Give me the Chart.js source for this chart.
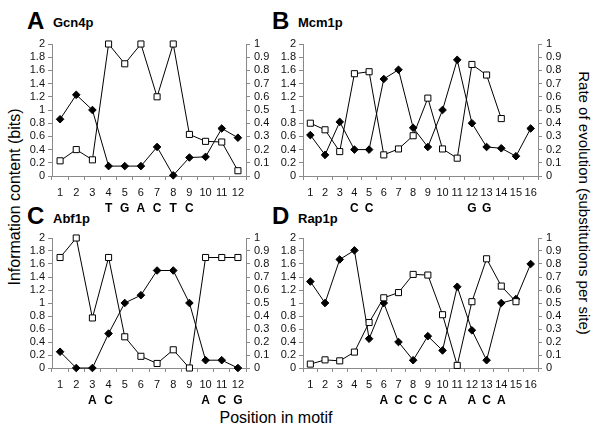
<!DOCTYPE html>
<html lang="en">
<head>
<meta charset="UTF-8">
<title>Motif conservation</title>
<script src="https://cdn.jsdelivr.net/npm/chart.js"></script>
<style>
    body { margin: 0; background: #fff; font-family: "Liberation Sans", Arial, sans-serif; }
    #wrap { position: relative; width: 600px; height: 435px; overflow: hidden; }
    canvas { position: absolute; }
    .head { position: absolute; font-weight: bold; white-space: nowrap; line-height: 1; }
    .big { font-size: 24px; }
    .name { font-size: 13px; }
    .axt { position: absolute; white-space: nowrap; line-height: 1; color: #000; }
</style>
</head>
<body>
<div id="wrap">
    <div class="head big" style="left:27px;top:9px">A</div>
    <div class="head name" style="left:53px;top:16px">Gcn4p</div>
    <div class="head big" style="left:272px;top:9px">B</div>
    <div class="head name" style="left:298px;top:16px">Mcm1p</div>
    <div class="head big" style="left:27px;top:204px">C</div>
    <div class="head name" style="left:53px;top:212px">Abf1p</div>
    <div class="head big" style="left:272px;top:204px">D</div>
    <div class="head name" style="left:298px;top:212px">Rap1p</div>

    <div class="axt" style="font-size:16px;left:15px;top:197px;transform:translate(-50%,-50%) rotate(-90deg)">Information content (bits)</div>
    <div class="axt" style="font-size:15px;left:584px;top:203px;transform:translate(-50%,-50%) rotate(90deg)">Rate of evolution (substitutions per site)</div>
    <div class="axt" style="font-size:16px;left:276px;top:418px;transform:translate(-50%,-50%)">Position in motif</div>

    <canvas id="cA"></canvas>
    <canvas id="cB"></canvas>
    <canvas id="cC"></canvas>
    <canvas id="cD"></canvas>
</div>

<script>
    const pos12 = ['1','2','3','4','5','6','7','8','9','10','11','12'];
    const pos16 = ['1','2','3','4','5','6','7','8','9','10','11','12','13','14','15','16'];

    // information content (bits, left axis) and rate of evolution (right axis)
    const infoA = [0.23, 0.40, 0.245, 2.0, 1.7, 2.0, 1.2, 2.0, 0.63, 0.525, 0.515, 0.08];
    const rateA = [0.43, 0.615, 0.5, 0.075, 0.075, 0.075, 0.22, 0.005, 0.14, 0.145, 0.36, 0.29];
    const basesA = ['', '', '', 'T', 'G', 'A', 'C', 'T', 'C', '', '', ''];

    const infoB = [0.80, 0.70, 0.37, 1.55, 1.58, 0.32, 0.41, 0.61, 1.18, 0.41, 0.27, 1.69, 1.53, 0.87, null, null];
    const rateB = [0.31, 0.16, 0.41, 0.2, 0.2, 0.735, 0.805, 0.365, 0.22, 0.5, 0.88, 0.4, 0.22, 0.21, 0.15, 0.36];
    const basesB = ['', '', '', 'C', 'C', '', '', '', '', '', '', 'G', 'G', '', '', ''];

    const infoC = [1.70, 2.0, 0.77, 1.70, 0.48, 0.18, 0.07, 0.28, 0.0, 1.70, 1.70, 1.70];
    const rateC = [0.125, 0, 0, 0.265, 0.5, 0.56, 0.75, 0.75, 0.5, 0.06, 0.06, 0];
    const basesC = ['', '', 'A', 'C', '', '', '', '', '', 'A', 'C', 'G'];

    const infoD = [0.06, 0.125, 0.11, 0.245, 0.70, 1.08, 1.16, 1.44, 1.43, 0.82, 0.04, 1.02, 1.68, 1.26, 1.02, null];
    const rateD = [0.665, 0.5, 0.835, 0.905, 0.225, 0.5, 0.2, 0.06, 0.245, 0.135, 0.625, 0.29, 0.06, 0.5, 0.53, 0.8];
    const basesD = ['', '', '', '', '', 'A', 'C', 'C', 'C', 'A', '', 'A', 'C', 'A', '', ''];

    const axisGrey = '#8a8a8a';
    const tickFont = { family: '"Liberation Sans", Arial, sans-serif', size: 11 };

    function panel(id, cv, box, labels, info, rate, bases) {
        const el = document.getElementById(id);
        el.width = cv.w;
        el.height = cv.h;
        el.style.left = cv.left + 'px';
        el.style.top = cv.top + 'px';

        const leftW = box.x0 - cv.left;
        const rightW = cv.left + cv.w - box.x1;
        const xH = 34;
        const padTop = box.y0 - cv.top;
        const padBottom = cv.top + cv.h - box.y1 - xH;

        const basesPlugin = {
            id: 'bases' + id,
            afterDraw(chart) {
                const c = chart.ctx;
                const xs = chart.scales.x;
                c.save();
                c.font = 'bold 12px "Liberation Sans", Arial, sans-serif';
                c.fillStyle = '#000';
                c.textAlign = 'center';
                c.textBaseline = 'middle';
                bases.forEach((b, i) => {
                    if (b) c.fillText(b, xs.getPixelForValue(i), chart.chartArea.bottom + 33);
                });
                c.restore();
            }
        };

        return new Chart(el, {
            type: 'line',
            data: {
                labels: labels,
                datasets: [{
                    data: info,
                    yAxisID: 'y',
                    borderColor: '#000',
                    borderWidth: 1,
                    pointStyle: 'rect',
                    pointRadius: 4.3,
                    pointBackgroundColor: '#fff',
                    pointBorderColor: '#000',
                    pointBorderWidth: 1,
                    tension: 0,
                    clip: false
                }, {
                    data: rate,
                    yAxisID: 'y1',
                    borderColor: '#000',
                    borderWidth: 1,
                    pointStyle: 'rectRot',
                    pointRadius: 3.8,
                    pointBackgroundColor: '#000',
                    pointBorderColor: '#000',
                    pointBorderWidth: 1,
                    tension: 0,
                    clip: false
                }]
            },
            options: {
                responsive: false,
                animation: false,
                layout: { padding: { top: padTop, bottom: padBottom, left: 0, right: 0 } },
                plugins: { legend: { display: false }, tooltip: { enabled: false } },
                scales: {
                    x: {
                        type: 'category',
                        offset: true,
                        grid: { offset: true, drawOnChartArea: false, drawTicks: true, tickLength: 4, color: axisGrey },
                        border: { color: axisGrey },
                        ticks: { autoSkip: false, maxRotation: 0, padding: 6, color: '#111', font: tickFont },
                        afterFit: s => { s.height = xH; }
                    },
                    y: {
                        position: 'left',
                        min: 0, max: 2,
                        grid: { drawOnChartArea: false, tickLength: 4, color: axisGrey },
                        border: { color: axisGrey },
                        ticks: { stepSize: 0.2, autoSkip: false, padding: 3, color: '#111', font: tickFont,
                                 callback: v => String(+v.toFixed(1)) },
                        afterFit: s => { s.width = leftW; }
                    },
                    y1: {
                        position: 'right',
                        min: 0, max: 1,
                        grid: { drawOnChartArea: false, tickLength: 4, color: axisGrey },
                        border: { color: axisGrey },
                        ticks: { stepSize: 0.1, autoSkip: false, padding: 4, color: '#111', font: tickFont,
                                 callback: v => String(+v.toFixed(1)) },
                        afterFit: s => { s.width = rightW; }
                    }
                }
            },
            plugins: [basesPlugin]
        });
    }

    panel('cA', { left: 0, top: 30, w: 300, h: 195 }, { x0: 52, x1: 246, y0: 44, y1: 176 }, pos12, infoA, rateA, basesA);
    panel('cB', { left: 250, top: 30, w: 350, h: 195 }, { x0: 303, x1: 538, y0: 44, y1: 176 }, pos16, infoB, rateB, basesB);
    panel('cC', { left: 0, top: 225, w: 300, h: 190 }, { x0: 52, x1: 246, y0: 238, y1: 368 }, pos12, infoC, rateC, basesC);
    panel('cD', { left: 250, top: 225, w: 350, h: 190 }, { x0: 303, x1: 538, y0: 238, y1: 368 }, pos16, infoD, rateD, basesD);
</script>
</body>
</html>
